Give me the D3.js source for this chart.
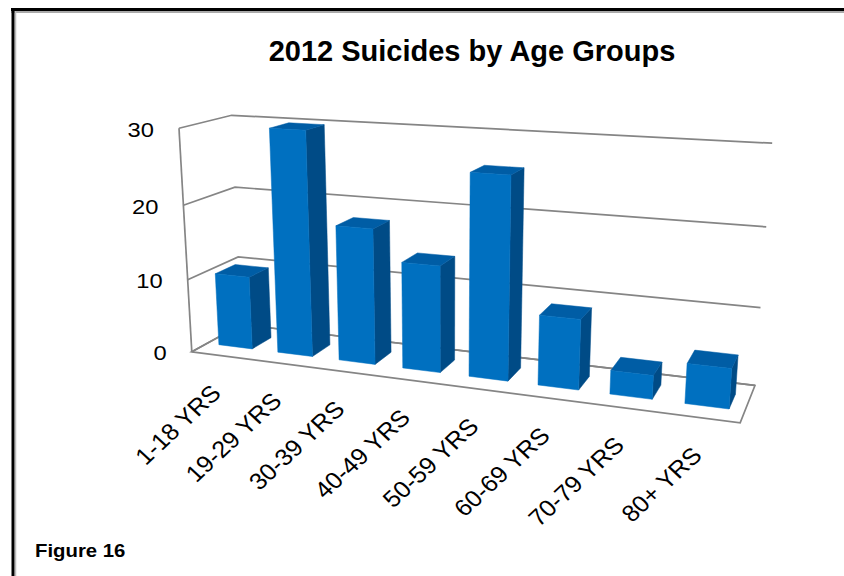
<!DOCTYPE html>
<html><head><meta charset="utf-8">
<script src="https://cdn.jsdelivr.net/npm/d3@7"></script>
<style>body{margin:0;background:#fff;overflow:hidden}</style>
</head><body><svg id="c" width="844" height="576"></svg>
<script>
// ---------------- data ----------------
const categories = ["1-18 YRS","19-29 YRS","30-39 YRS","40-49 YRS","50-59 YRS","60-69 YRS","70-79 YRS","80+ YRS"];
const suicides = [10, 30, 18, 14, 26, 9, 3, 5];
const yTicks = [0, 10, 20, 30];
const titleText = "2012 Suicides by Age Groups";
const figureText = "Figure 16";

// ---------------- layout: 3D frame calibration (world -> screen) ----------------
// world: X 0..1 (left->right), value 0..30, Z 0..1 (front->back)
const calib = [
  [0, 0, 0, 192, 352], [0, 10, 0, 188, 280], [0, 20, 0, 183, 205], [0, 30, 0, 179, 128],
  [0, 10, 1, 238, 257], [0, 20, 1, 235, 188], [0, 30, 1, 232, 115], [0, 0, 1, 241, 324],
  [1, 0, 1, 755, 385], [1, 10, 1, 761, 308], [1, 20, 1, 766, 227], [1, 30, 1, 772, 143],
  [1, 0, 0, 740, 423]
];
const VMAX = 30, SN = 300, CU = 470, CV = 270;

function fit(pts) {
  const rows = [], rhs = [];
  pts.forEach(([X, V, Z, u, v]) => {
    const Y = V / VMAX, uu = (u - CU) / SN, vv = (v - CV) / SN;
    rows.push([X, Y, Z, 1, 0, 0, 0, 0, -uu * X, -uu * Y, -uu * Z]); rhs.push(uu);
    rows.push([0, 0, 0, 0, X, Y, Z, 1, -vv * X, -vv * Y, -vv * Z]); rhs.push(vv);
  });
  const n = 11, M = Array.from({length: n}, () => new Array(n + 1).fill(0));
  rows.forEach((r, k) => {
    for (let i = 0; i < n; i++) {
      for (let j = 0; j < n; j++) M[i][j] += r[i] * r[j];
      M[i][n] += r[i] * rhs[k];
    }
  });
  for (let c = 0; c < n; c++) {
    let p = c;
    for (let r = c + 1; r < n; r++) if (Math.abs(M[r][c]) > Math.abs(M[p][c])) p = r;
    [M[c], M[p]] = [M[p], M[c]];
    for (let r = 0; r < n; r++) if (r !== c) {
      const f = M[r][c] / M[c][c];
      for (let j = c; j <= n; j++) M[r][j] -= f * M[c][j];
    }
  }
  return M.map((r, i) => r[n] / r[i]);
}
const P = fit(calib);
function proj(X, Y, Z) { // Y normalized 0..1
  const w = P[8] * X + P[9] * Y + P[10] * Z + 1;
  const u = (P[0] * X + P[1] * Y + P[2] * Z + P[3]) / w;
  const v = (P[4] * X + P[5] * Y + P[6] * Z + P[7]) / w;
  return [u * SN + CU, v * SN + CV];
}

const x = d3.scaleBand().domain(categories).range([0, 1]).paddingInner(0.43).paddingOuter(0.2);
const y = d3.scaleLinear().domain([0, VMAX]).range([0, 1]);
const zFront = 0.3, zBack = 0.7;

const svg = d3.select("#c");
const line = (pts) => "M" + pts.map(p => proj(...p).join(",")).join("L");
const poly = (pts) => line(pts) + "Z";
const FONT = "Liberation Sans, Arial, sans-serif";
const stretch = 1.13, labelStretch = 1.07;

// border
svg.append("rect").attr("x", 0).attr("y", 0).attr("width", 844).attr("height", 576).attr("fill", "#fff");
svg.append("line").attr("x1", 11).attr("x2", 844).attr("y1", 12).attr("y2", 12).attr("stroke", "#aaa").attr("stroke-width", 2);
svg.append("line").attr("x1", 15.5).attr("x2", 15.5).attr("y1", 10).attr("y2", 576).attr("stroke", "#bbb").attr("stroke-width", 1.5);
svg.append("line").attr("x1", 11).attr("x2", 844).attr("y1", 9.5).attr("y2", 9.5).attr("stroke", "#000").attr("stroke-width", 3);
svg.append("line").attr("x1", 13).attr("x2", 13).attr("y1", 8).attr("y2", 576).attr("stroke", "#000").attr("stroke-width", 3);

// title
svg.append("text").attr("x", 472).attr("y", 61).attr("text-anchor", "middle")
  .attr("font-family", FONT).attr("font-weight", "bold").attr("font-size", 29)
  .attr("fill", "#000").text(titleText);

const grid = svg.append("g").attr("fill", "none").attr("stroke", "#858585").attr("stroke-width", 1.7);
// floor
grid.append("path").attr("d", poly([[0, 0, 0], [1, 0, 0], [1, 0, 1], [0, 0, 1]])).attr("fill", "#fff");
// gridlines on side wall and back wall
yTicks.forEach(t => {
  grid.append("path").attr("d", line([[0, y(t), 0], [0, y(t), 1], [1, y(t), 1]]));
});
// left front axis edge
grid.append("path").attr("d", line([[0, 0, 0], [0, 1, 0]]));

// y labels
svg.append("g").selectAll("text").data(yTicks).join("text")
  .attr("transform", d => { const [u, v] = proj(0, y(d), 0); return `translate(${u - 25},${v + 8.5}) scale(${stretch},1)`; })
  .attr("text-anchor", "end").attr("font-family", FONT).attr("font-size", 21)
  .attr("fill", "#000").text(d => d);

// bars
const cols = {front: "#0070c0", side: "#004b86", top: "#005da5"};
const bars = svg.append("g");
categories.forEach((c, i) => {
  const x0 = x(c), x1 = x(c) + x.bandwidth(), h = y(suicides[i]);
  const g = bars.append("g");
  g.append("path").attr("d", poly([[x1, 0, zFront], [x1, 0, zBack], [x1, h, zBack], [x1, h, zFront]]))
    .attr("fill", cols.side).attr("stroke", cols.side).attr("stroke-width", 0.5);
  g.append("path").attr("d", poly([[x0, h, zFront], [x1, h, zFront], [x1, h, zBack], [x0, h, zBack]]))
    .attr("fill", cols.top).attr("stroke", cols.top).attr("stroke-width", 0.5);
  g.append("path").attr("d", poly([[x0, 0, zFront], [x1, 0, zFront], [x1, h, zFront], [x0, h, zFront]]))
    .attr("fill", cols.front).attr("stroke", cols.front).attr("stroke-width", 0.5);
});

// category labels
svg.append("g").selectAll("text").data(categories).join("text")
  .attr("transform", d => { const [u, v] = proj(x(d) + x.bandwidth() / 2, 0, 0); return `translate(${u + 2},${v + 39}) scale(${labelStretch},1) rotate(-45)`; })
  .attr("text-anchor", "end").attr("font-family", FONT).attr("font-size", 23.5)
  .attr("fill", "#000").text(d => d);

// figure label
svg.append("text").attr("transform", `translate(35,557) scale(${stretch},1)`)
  .attr("font-family", FONT).attr("font-weight", "bold").attr("font-size", 18)
  .attr("fill", "#000").text(figureText);
</script>
</body></html>
